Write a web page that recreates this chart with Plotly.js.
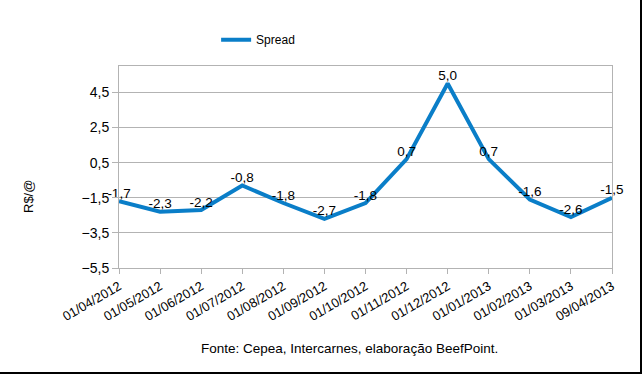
<!DOCTYPE html>
<html>
<head>
<meta charset="utf-8">
<script src="https://cdn.plot.ly/plotly-3.0.1.min.js"></script>
<style>
  html, body { margin: 0; padding: 0; background: #fff; }
  #wrap { position: relative; width: 643px; height: 375px; }
  #chart { position: absolute; left: 0; top: 0; width: 643px; height: 375px; }
  #bR { position: absolute; left: 640px; top: 0; width: 2px; height: 374px; background: #000; }
  #bB { position: absolute; left: 0; top: 372px; width: 642px; height: 2px; background: #000; }
</style>
</head>
<body>
<div id="wrap">
  <div id="chart"></div>
  <div id="bR"></div>
  <div id="bB"></div>
</div>
<script>
const categories = ["01/04/2012","01/05/2012","01/06/2012","01/07/2012","01/08/2012","01/09/2012","01/10/2012","01/11/2012","01/12/2012","01/01/2013","01/02/2013","01/03/2013","09/04/2013"];
const spread = [-1.7, -2.3, -2.2, -0.8, -1.8, -2.7, -1.8, 0.7, 5.0, 0.7, -1.6, -2.6, -1.5];
const seriesName = "Spread";
const yTitle = "R$/@";
const sourceNote = "Fonte: Cepea, Intercarnes, elaboração BeefPoint.";

const labels = spread.map(v => v.toFixed(1).replace('.', ','));
const font = "Liberation Sans, Arial, sans-serif";

const trace = {
  x: categories.map((c, i) => i),
  y: spread,
  type: 'scatter',
  mode: 'lines+text',
  name: seriesName,
  line: { color: '#0a7ec8', width: 4 },
  text: labels,
  textposition: 'top center',
  textfont: { family: font, size: 13.5, color: '#000' },
  cliponaxis: false,
  showlegend: true
};

const layout = {
  width: 643, height: 375,
  margin: { l: 119, r: 31, t: 66, b: 107 },
  paper_bgcolor: '#fff', plot_bgcolor: '#fff',
  separators: ',.',
  font: { family: font, size: 12, color: '#000' },
  showlegend: true,
  legend: {
    orientation: 'h', x: 0.197, xanchor: 'left', y: 1.13, yanchor: 'middle',
    font: { family: font, size: 12, color: '#000' }, bgcolor: 'rgba(0,0,0,0)'
  },
  xaxis: {
    range: [0, categories.length - 1],
    tickmode: 'array',
    tickvals: categories.map((c, i) => i),
    ticktext: categories,
    tickangle: -30,
    ticks: 'outside', ticklen: 5, tickcolor: '#b3b3b3',
    showgrid: false, zeroline: false,
    showline: true, linecolor: '#b3b3b3', linewidth: 1, mirror: true,
    tickfont: { family: font, size: 13, color: '#000' }
  },
  yaxis: {
    range: [-5.5, 6.0],
    tick0: -5.5, dtick: 2,
    tickformat: '.1f',
    ticks: 'outside', ticklen: 6, tickcolor: '#b3b3b3',
    showgrid: true, gridcolor: '#b3b3b3', gridwidth: 1,
    zeroline: false,
    showline: true, linecolor: '#b3b3b3', linewidth: 1, mirror: true,
    tickfont: { family: font, size: 14, color: '#000' }
  },
  annotations: [
    {
      text: yTitle, xref: 'paper', yref: 'paper',
      x: (28 - 119) / 493, y: (268 - 197) / 202,
      xanchor: 'center', yanchor: 'middle', textangle: -90, showarrow: false,
      font: { family: font, size: 13, color: '#000' }
    },
    {
      text: sourceNote, xref: 'paper', yref: 'paper',
      x: (349 - 119) / 493, y: (268 - 348) / 202,
      xanchor: 'center', yanchor: 'middle', showarrow: false,
      font: { family: font, size: 13.5, color: '#000' }
    }
  ]
};

Plotly.newPlot('chart', [trace], layout, { displayModeBar: false, staticPlot: true });
</script>
</body>
</html>
